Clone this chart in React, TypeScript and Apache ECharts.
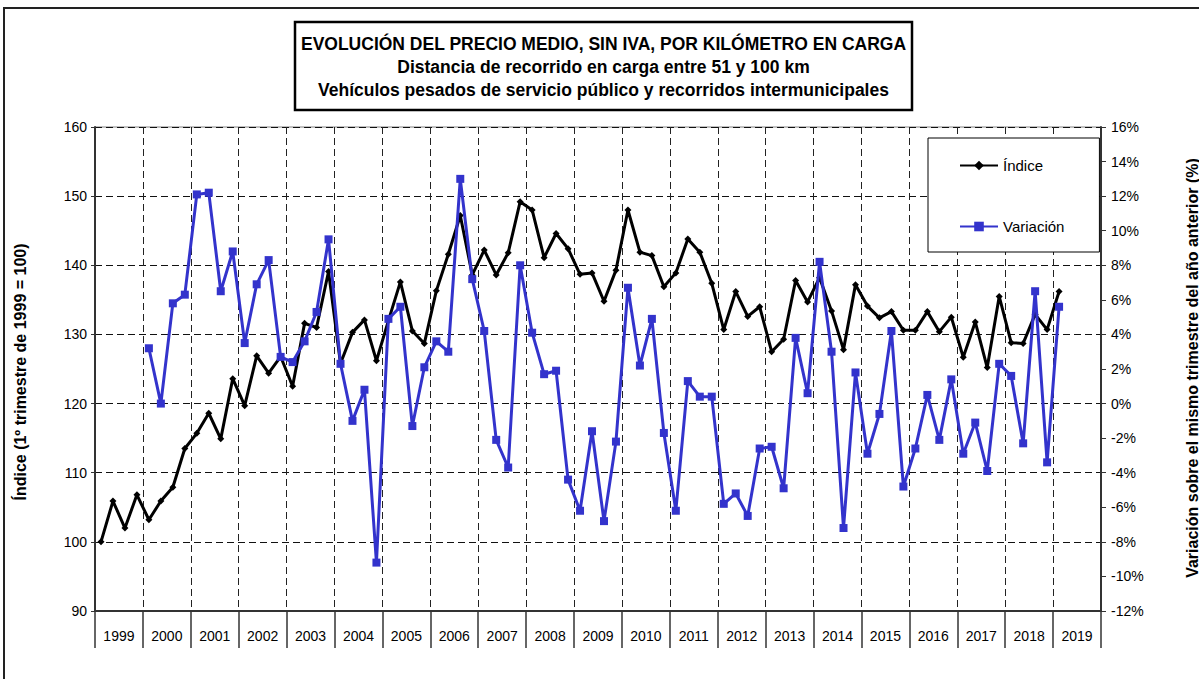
import React, { useEffect, useRef } from "react";
import * as echarts from "echarts";

const years = [
  "1999", "2000", "2001", "2002", "2003", "2004", "2005", "2006", "2007", "2008",
  "2009", "2010", "2011", "2012", "2013", "2014", "2015", "2016", "2017", "2018", "2019",
];
const quarterNames = ["T1", "T2", "T3", "T4"];
const quarterCategories = years.flatMap((y) => quarterNames.map((q) => `${y} ${q}`));

// Índice (1º trimestre de 1999 = 100), 1999 T1 .. 2019 T1
const indice = [
  100.0, 105.9, 102.0, 106.8,
  103.2, 105.9, 107.9, 113.5,
  115.7, 118.6, 114.9, 123.6,
  119.7, 126.9, 124.4, 126.8,
  122.5, 131.6, 131.0, 139.1,
  125.8, 130.3, 132.1, 126.2,
  132.0, 137.6, 130.5, 128.7,
  136.3, 141.6, 147.2, 138.6,
  142.2, 138.6, 141.8, 149.2,
  148.0, 141.1, 144.6, 142.4,
  138.7, 138.9, 134.8, 139.3,
  148.0, 141.9, 141.4, 136.9,
  138.9, 143.8, 141.9, 137.4,
  130.7, 136.2, 132.6, 134.0,
  127.5, 129.3, 137.8, 134.7,
  138.2, 133.4, 127.8, 137.2,
  134.1, 132.4, 133.3, 130.6,
  130.6, 133.3, 130.4, 132.5,
  126.7, 131.8, 125.2, 135.5,
  128.8, 128.7, 132.9, 130.7,
  136.2,
];

// Variación (%) sobre el mismo trimestre del año anterior, 2000 T1 .. 2019 T1
const variacion = [
  3.2, 0.0, 5.8, 6.3,
  12.1, 12.2, 6.5, 8.8,
  3.5, 6.9, 8.3, 2.7,
  2.4, 3.6, 5.3, 9.5,
  2.3, -1.0, 0.8, -9.2,
  4.9, 5.6, -1.3, 2.1,
  3.6, 3.0, 13.0, 7.2,
  4.2, -2.1, -3.7, 8.0,
  4.1, 1.7, 1.9, -4.4,
  -6.2, -1.6, -6.8, -2.2,
  6.7, 2.2, 4.9, -1.7,
  -6.2, 1.3, 0.4, 0.4,
  -5.8, -5.2, -6.5, -2.6,
  -2.5, -4.9, 3.8, 0.6,
  8.2, 3.0, -7.2, 1.8,
  -2.9, -0.6, 4.2, -4.8,
  -2.6, 0.5, -2.1, 1.4,
  -2.9, -1.1, -3.9, 2.3,
  1.6, -2.3, 6.5, -3.4,
  5.6,
];
const variacionStartOffset = 4; // first value is 2000 T1

const titleLines = [
  "EVOLUCIÓN DEL PRECIO MEDIO, SIN IVA, POR KILÓMETRO EN CARGA",
  "Distancia de recorrido en carga entre 51 y 100 km",
  "Vehículos pesados de servicio público y recorridos intermunicipales",
];
const leftAxisTitle = "Índice (1º trimestre de 1999 = 100)";
const rightAxisTitle = "Variación sobre el mismo trimestre del año anterior (%)";

const FONT = "'Liberation Sans', Arial, Helvetica, sans-serif";
const BLUE = "#3333cc";

export default function App() {
  const ref = useRef<HTMLDivElement>(null);

  useEffect(() => {
    if (!ref.current) return;
    const chart = echarts.init(ref.current, undefined, { renderer: "svg" });

    const variacionData: (number | null)[] = [
      ...Array(variacionStartOffset).fill(null),
      ...variacion,
    ];

    const dash = [7, 4];

    chart.setOption({
      animation: false,
      backgroundColor: "#ffffff",
      textStyle: { fontFamily: FONT },
      grid: {
        left: 95,
        right: 98,
        top: 127,
        bottom: 68,
        show: true,
        borderColor: "#808080",
        borderWidth: 1,
      },
      xAxis: [
        {
          type: "category",
          data: quarterCategories,
          boundaryGap: true,
          show: false,
        },
        {
          type: "category",
          data: years,
          boundaryGap: true,
          position: "bottom",
          axisLine: { show: true, lineStyle: { color: "#333", width: 2 } },
          axisTick: { show: true, interval: 0, length: 37, lineStyle: { color: "#333", width: 1.5 } },
          axisLabel: { interval: 0, color: "#000", fontSize: 14, margin: 18, fontFamily: FONT },
          splitLine: { show: true, interval: 0, lineStyle: { color: "#222", type: dash, width: 1 } },
        },
      ],
      yAxis: [
        {
          type: "value",
          min: 90,
          max: 160,
          interval: 10,
          position: "left",
          axisLine: { show: true, lineStyle: { color: "#333", width: 2 } },
          axisTick: { show: true, length: 4, lineStyle: { color: "#333" } },
          axisLabel: { color: "#000", fontSize: 14, margin: 8, fontFamily: FONT },
          splitLine: { show: true, lineStyle: { color: "#111", type: dash, width: 1 } },
        },
        {
          type: "value",
          min: -12,
          max: 16,
          interval: 2,
          position: "right",
          axisLine: { show: true, lineStyle: { color: "#333", width: 2 } },
          axisTick: { show: true, length: 5, lineStyle: { color: "#333" } },
          axisLabel: { color: "#000", fontSize: 14, margin: 10, formatter: "{value}%", fontFamily: FONT },
          splitLine: { show: false },
        },
      ],
      legend: {
        orient: "vertical",
        left: 928,
        top: 138,
        padding: [20, 35, 18, 31],
        itemGap: 46,
        itemWidth: 38,
        itemHeight: 12,
        borderColor: "#000",
        borderWidth: 1,
        backgroundColor: "#fff",
        textStyle: { fontSize: 15, color: "#000", fontFamily: FONT },
        data: ["Índice", "Variación"],
      },
      series: [
        {
          name: "Índice",
          type: "line",
          xAxisIndex: 0,
          yAxisIndex: 0,
          data: indice,
          symbol: "diamond",
          symbolSize: 7,
          showAllSymbol: true,
          lineStyle: { color: "#000", width: 3 },
          itemStyle: { color: "#000" },
          z: 3,
        },
        {
          name: "Variación",
          type: "line",
          xAxisIndex: 0,
          yAxisIndex: 1,
          data: variacionData,
          symbol: "rect",
          symbolSize: 8,
          showAllSymbol: true,
          lineStyle: { color: BLUE, width: 3 },
          itemStyle: { color: BLUE },
          z: 4,
        },
      ],
      graphic: [
        {
          type: "rect",
          silent: true,
          shape: { x: 4, y: 8, width: 1300, height: 700 },
          style: { fill: "none", stroke: "#222", lineWidth: 2 },
        },
        {
          type: "rect",
          silent: true,
          shape: { x: 295, y: 22, width: 617, height: 88 },
          style: { fill: "#fff", stroke: "#000", lineWidth: 2.5 },
        },
        ...titleLines.map((t, i) => ({
          type: "text",
          silent: true,
          x: 603.5,
          y: 44 + i * 23,
          style: {
            text: t,
            fill: "#000",
            font: `bold 17.5px ${FONT}`,
            align: "center",
            verticalAlign: "middle",
          },
        })),
        {
          type: "text",
          silent: true,
          x: 20,
          y: 372,
          rotation: Math.PI / 2,
          style: {
            text: leftAxisTitle,
            fill: "#000",
            font: `bold 16px ${FONT}`,
            align: "center",
            verticalAlign: "middle",
          },
        },
        {
          type: "text",
          silent: true,
          x: 1192,
          y: 368,
          rotation: Math.PI / 2,
          style: {
            text: rightAxisTitle,
            fill: "#000",
            font: `bold 16px ${FONT}`,
            align: "center",
            verticalAlign: "middle",
          },
        },
      ],
    });

    return () => {
      chart.dispose();
    };
  }, []);

  return (
    <div
      ref={ref}
      style={{ position: "fixed", left: 0, top: 0, width: 1199, height: 679, background: "#fff" }}
    />
  );
}
